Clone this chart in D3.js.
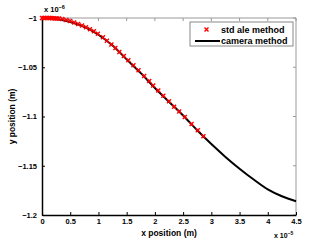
<!DOCTYPE html>
<html><head><meta charset="utf-8">
<script src="https://cdn.jsdelivr.net/npm/d3@7"></script>
<style>body{margin:0;background:#fff}svg{display:block;font-family:"Liberation Sans",Arial,sans-serif}</style>
</head><body>
<script>
// x in units of 1e-5 m, y in units of 1e-6 m
const cameraX = [0,0.25,0.5,0.75,1.0,1.25,1.5,1.75,2.0,2.25,2.5,2.75,3.0,3.25,3.5,3.75,4.0,4.25,4.5];
const cameraY = [-1.000,-1.001,-1.004,-1.009,-1.017,-1.028,-1.042,-1.056,-1.071,-1.085,-1.099,-1.114,-1.128,-1.141,-1.153,-1.164,-1.174,-1.181,-1.186];
const stdX = [0,0.03,0.06,0.09,0.12,0.15,0.18,0.21,0.24,0.27,0.30,0.36,0.43,0.50,0.57,0.64,0.71,0.78,0.85,0.92,0.99,1.08,1.15,1.23,1.30,1.37,1.45,1.53,1.62,1.71,1.81,1.90,1.97,2.06,2.15,2.25,2.34,2.43,2.53,2.65,2.76,2.86];
const stdY = [-1.0000,-1.0000,-1.0000,-1.0000,-1.0001,-1.0001,-1.0002,-1.0003,-1.0004,-1.0005,-1.0006,-1.0010,-1.0020,-1.0030,-1.0045,-1.0060,-1.0075,-1.0095,-1.0115,-1.0135,-1.0160,-1.0195,-1.0230,-1.0270,-1.0305,-1.0345,-1.0385,-1.0430,-1.0480,-1.0530,-1.0590,-1.0640,-1.0685,-1.0735,-1.0790,-1.0845,-1.0900,-1.0950,-1.1005,-1.1075,-1.1140,-1.1200];
const xTicks = [0,0.5,1,1.5,2,2.5,3,3.5,4,4.5];
const yTicks = [-1,-1.05,-1.1,-1.15,-1.2];
const seriesNames = ["std ale method","camera method"];

const W=327,H=242;
const L=42,R=296,T=18,B=215;
const svg=d3.select("body").append("svg").attr("width",W).attr("height",H);
const x=d3.scaleLinear().domain([0,4.5]).range([L,R]);
const y=d3.scaleLinear().domain([-1.2,-1]).range([B,T]);

// box top/right
svg.append("line").attr("x1",L).attr("x2",R).attr("y1",T).attr("y2",T).attr("stroke","#999").attr("stroke-width",1);
svg.append("line").attr("x1",R).attr("x2",R).attr("y1",T).attr("y2",B).attr("stroke","#999").attr("stroke-width",1);
// inner ticks top/right
svg.selectAll(".tt").data(xTicks).enter().append("line").attr("x1",d=>x(d)).attr("x2",d=>x(d)).attr("y1",T).attr("y2",T+3).attr("stroke","#999");
svg.selectAll(".rt").data(yTicks).enter().append("line").attr("x1",R).attr("x2",R-3).attr("y1",d=>y(d)).attr("y2",d=>y(d)).attr("stroke","#999");

const xAxis=d3.axisBottom(x).tickValues(xTicks).tickSizeInner(-3).tickSizeOuter(0).tickPadding(5).tickFormat(d3.format("~g"));
const gx=svg.append("g").attr("transform",`translate(0,${B})`).call(xAxis);
const yAxis=d3.axisLeft(y).tickValues(yTicks).tickSizeInner(-3).tickSizeOuter(0).tickPadding(5).tickFormat(d=>d3.format("~g")(d).replace("-","\u2212"));
const gy=svg.append("g").attr("transform",`translate(${L},0)`).call(yAxis);
[gx,gy].forEach(g=>{
  g.select(".domain").attr("stroke","#000").attr("stroke-width",1.5);
  g.selectAll(".tick line").attr("stroke","#000");
  g.selectAll("text").attr("font-size",7.5).attr("font-weight","bold").attr("fill","#000").attr("font-family","Liberation Sans, Arial, sans-serif");
});
gx.selectAll("text").attr("dy","0.55em");

// line
const line=d3.line().x((d,i)=>x(cameraX[i])).y(d=>y(d)).curve(d3.curveMonotoneX);
svg.append("path").datum(cameraY).attr("d",line).attr("fill","none").attr("stroke","#000").attr("stroke-width",2);

// markers
const s=2;
const mk=svg.append("g").attr("stroke","#ff0000").attr("stroke-width",1.4);
stdX.forEach((v,i)=>{
  const cx=x(v),cy=y(stdY[i]);
  mk.append("path").attr("d",`M${cx-s},${cy-s}L${cx+s},${cy+s}M${cx-s},${cy+s}L${cx+s},${cy-s}`);
});

// exponents
const ex=svg.append("text").attr("x",44).attr("y",12).attr("font-size",7.5).attr("font-weight","bold");
ex.append("tspan").text("x 10");
ex.append("tspan").attr("dy",-3).attr("font-size",5.5).text("\u22126");
const ex2=svg.append("text").attr("x",274).attr("y",238).attr("font-size",7).attr("font-weight","bold");
ex2.append("tspan").text("x 10");
ex2.append("tspan").attr("dy",-3).attr("font-size",5).text("\u22125");

// axis titles
svg.append("text").attr("x",(L+R)/2).attr("y",236).attr("text-anchor","middle").attr("font-size",8.5).attr("font-weight","bold").text("x position (m)");
svg.append("text").attr("transform",`translate(15,${(T+B)/2}) rotate(-90)`).attr("text-anchor","middle").attr("font-size",8.5).attr("font-weight","bold").text("y position (m)");

// legend
const lg=svg.append("g");
lg.append("rect").attr("x",190).attr("y",22).attr("width",103).attr("height",24).attr("fill","#fff").attr("stroke","#888").attr("stroke-width",1);
const lx=206.5,ly=29.5;
lg.append("path").attr("d",`M${lx-s},${ly-s}L${lx+s},${ly+s}M${lx-s},${ly+s}L${lx+s},${ly-s}`).attr("stroke","#ff0000").attr("stroke-width",1.4);
lg.append("line").attr("x1",195).attr("x2",220).attr("y1",41).attr("y2",41).attr("stroke","#000").attr("stroke-width",2);
lg.selectAll("text").data(seriesNames).enter().append("text").attr("x",221).attr("y",(d,i)=>32.5+i*11.5).attr("font-size",9).attr("font-weight","bold").text(d=>d);
</script>
</body></html>
